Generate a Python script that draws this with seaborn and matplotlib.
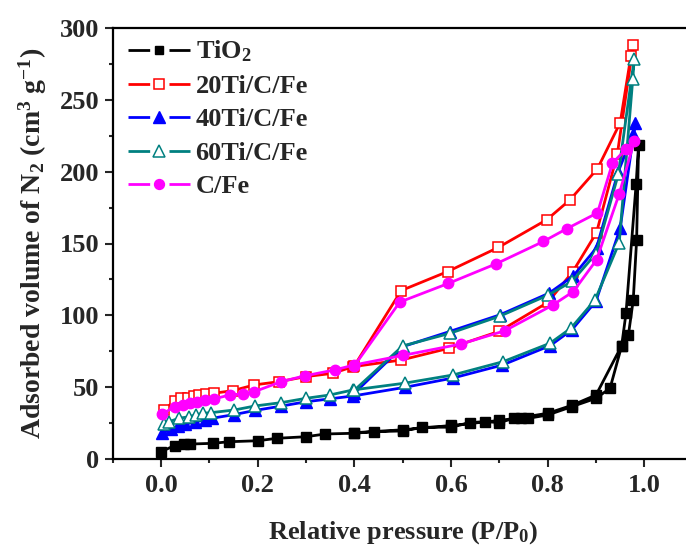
import numpy as np
import pandas as pd
import matplotlib
matplotlib.use("Agg")
import matplotlib.pyplot as plt
import seaborn as sns
from matplotlib.lines import Line2D

# ---------------- data ----------------
samples = ["TiO$_\\mathregular{2}$", "20Ti/C/Fe", "40Ti/C/Fe", "60Ti/C/Fe", "C/Fe"]

tio2_x = [0.0, 0.028, 0.048, 0.06, 0.107, 0.14, 0.2, 0.24, 0.3, 0.34, 0.4, 0.44, 0.5,
          0.54, 0.6, 0.64, 0.67, 0.7, 0.73, 0.76, 0.8, 0.85, 0.9, 0.929, 0.953, 0.967,
          0.977, 0.984, 0.988,
          0.983, 0.962, 0.953, 0.90, 0.85, 0.80, 0.745, 0.70, 0.60, 0.50, 0.40]
tio2_y = [5.3, 9.5, 10.5, 10.6, 11.1, 12.2, 12.9, 14.6, 15.7, 17.6, 18.1, 19.2, 19.7,
          22.3, 22.3, 25.5, 26.2, 25.5, 28.5, 28.5, 30.8, 36.6, 42.4, 49.4, 78.8, 86.5,
          110.8, 152.5, 218.6,
          191.5, 101.5, 79.0, 44.7, 37.5, 32.0, 29.0, 27.0, 23.5, 20.5, 18.5]

ti20_x = [0.007, 0.028, 0.041, 0.055, 0.069, 0.079, 0.093, 0.109, 0.148, 0.193, 0.245,
          0.30, 0.356, 0.397, 0.497, 0.596, 0.70, 0.80, 0.852, 0.901, 0.944, 0.977,
          0.972, 0.950, 0.903, 0.846, 0.798, 0.698, 0.593, 0.497, 0.40]
ti20_y = [34.3, 40.8, 42.4, 42.9, 44.0, 44.5, 45.4, 45.9, 47.7, 51.7, 54.0,
          57.5, 59.8, 64.4, 69.0, 77.2, 89.0, 109.0, 130.5, 157.6, 212.0, 288.0,
          280.0, 234.0, 202.0, 180.3, 166.5, 147.3, 130.5, 117.3, 65.0]

ti40_x = [0.003, 0.02, 0.035, 0.05, 0.07, 0.09, 0.105, 0.15, 0.195, 0.249, 0.30, 0.349,
          0.397, 0.504, 0.604, 0.706, 0.805, 0.85, 0.90, 0.95, 0.981,
          0.977, 0.946, 0.901, 0.853, 0.803, 0.701, 0.597, 0.50, 0.40]
ti40_y = [18.1, 21.0, 23.0, 24.5, 26.0, 27.5, 28.5, 31.0, 34.0, 37.0, 40.0, 42.0,
          44.0, 50.0, 56.5, 65.5, 79.0, 90.0, 110.0, 160.7, 233.7,
          226.0, 200.0, 147.0, 127.5, 115.5, 100.4, 88.8, 78.3, 46.0]

ti60_x = [0.007, 0.017, 0.037, 0.058, 0.072, 0.086, 0.103, 0.152, 0.195, 0.249, 0.30,
          0.349, 0.397, 0.504, 0.604, 0.708, 0.805, 0.848, 0.898, 0.948, 0.976, 0.979,
          0.946, 0.90, 0.85, 0.80, 0.701, 0.597, 0.50, 0.40]
ti60_y = [24.5, 26.2, 28.5, 29.6, 30.8, 32.0, 32.4, 34.3, 37.1, 39.4, 42.4,
          44.7, 48.2, 52.9, 58.6, 67.9, 80.7, 91.1, 110.8, 150.6, 264.3, 278.2,
          198.0, 143.0, 123.6, 114.0, 99.5, 87.5, 78.8, 48.0]

cfe_x = [0.003, 0.028, 0.045, 0.06, 0.075, 0.09, 0.11, 0.142, 0.17, 0.193, 0.249, 0.297,
         0.359, 0.40, 0.50, 0.62, 0.711, 0.81, 0.853, 0.901, 0.948, 0.979,
         0.962, 0.934, 0.903, 0.839, 0.791, 0.694, 0.594, 0.494, 0.40]
cfe_y = [31.5, 36.6, 38.0, 39.0, 40.0, 41.0, 42.0, 44.7, 45.5, 47.0, 54.0, 58.0,
         62.1, 65.6, 72.2, 80.1, 89.3, 107.1, 116.6, 138.6, 184.5, 221.0,
         215.6, 205.9, 171.3, 160.2, 151.4, 136.0, 122.2, 109.3, 65.0]

xs = [tio2_x, ti20_x, ti40_x, ti60_x, cfe_x]
ys = [tio2_y, ti20_y, ti40_y, ti60_y, cfe_y]

x_ticks = [0.0, 0.2, 0.4, 0.6, 0.8, 1.0]
y_ticks = [0, 50, 100, 150, 200, 250, 300]

# ---------------- styles ----------------
colors = ["#000000", "#FF0000", "#0000FF", "#008080", "#FF00FF"]
markers = ["s", "s", "^", "^", "o"]
mfaces = ["#000000", "white", "#0000FF", "white", "#FF00FF"]
msizes = [6.5, 7, 8.5, 9, 7.5]
medgew = [1, 1.1, 1, 1.1, 1]

sns.set_theme(style="ticks")
plt.rcParams["font.family"] = ["Liberation Serif", "DejaVu Serif"]
plt.rcParams["font.weight"] = "bold"
plt.rcParams["mathtext.fontset"] = "custom"
plt.rcParams["mathtext.rm"] = "Liberation Serif:bold"
plt.rcParams["mathtext.it"] = "Liberation Serif:bold:italic"
plt.rcParams["mathtext.bf"] = "Liberation Serif:bold"
plt.rcParams["lines.scale_dashes"] = False

fig = plt.figure(figsize=(6.86, 5.5), dpi=100)
ax = fig.add_axes([112.7 / 686, (550 - 459.3) / 550, 580 / 686, 431.6 / 550])

for i, lab in enumerate(samples):
    df = pd.DataFrame({"P": xs[i], "V": ys[i]})
    sns.lineplot(data=df, x="P", y="V", sort=False, estimator=None, ax=ax,
                 color=colors[i], lw=2.0, marker=markers[i], markersize=msizes[i],
                 markerfacecolor=mfaces[i], markeredgecolor=colors[i],
                 markeredgewidth=medgew[i], zorder=2 + i)

ax.set_xlim(-0.1, 1.1)
ax.set_ylim(0, 300)
ax.set_xticks(x_ticks)
ax.set_xticklabels([f"{v:.1f}" for v in x_ticks])
ax.set_yticks(y_ticks)
ax.set_xticks(np.arange(-0.1, 1.11, 0.1), minor=True)
ax.set_yticks(np.arange(0, 301, 25), minor=True)
ax.tick_params(axis="both", which="major", direction="out", length=5.5, width=1.5,
               labelsize=19)
ax.tick_params(axis="x", which="major", pad=5)
ax.tick_params(axis="y", which="major", pad=4)
ax.tick_params(axis="both", which="minor", direction="out", length=3, width=1.5)
for lbl in ax.get_xticklabels() + ax.get_yticklabels():
    lbl.set_fontweight("bold")
for side in ["left", "bottom", "top", "right"]:
    ax.spines[side].set_linewidth(1.6)
    ax.spines[side].set_color("black")

ax.set_xlabel("Relative pressure (P/P$_\\mathregular{0}$)", fontsize=19,
              fontweight="bold", labelpad=16)
ax.set_ylabel("Adsorbed volume of N$_\\mathregular{2}$ (cm$^\\mathregular{3}$ g$^\\mathregular{-1}$)",
              fontsize=20, fontweight="bold", labelpad=8)

handles = []
for i, lab in enumerate(samples):
    h = Line2D([0], [0], color=colors[i], lw=2.0, linestyle=(0, (15.6, 13.9)),
               marker=markers[i], markersize=msizes[i] * 0.95, markerfacecolor=mfaces[i],
               markeredgecolor=colors[i], markeredgewidth=medgew[i])
    handles.append(h)
leg = ax.legend(handles, samples, loc="upper left", bbox_to_anchor=(0.004, 1.005),
                frameon=False, fontsize=19, handlelength=2.35, handletextpad=0.2,
                labelspacing=0.38, borderaxespad=0.1, numpoints=1)
for t in leg.get_texts():
    t.set_fontweight("bold")

fig.savefig("out.png", dpi=100)
